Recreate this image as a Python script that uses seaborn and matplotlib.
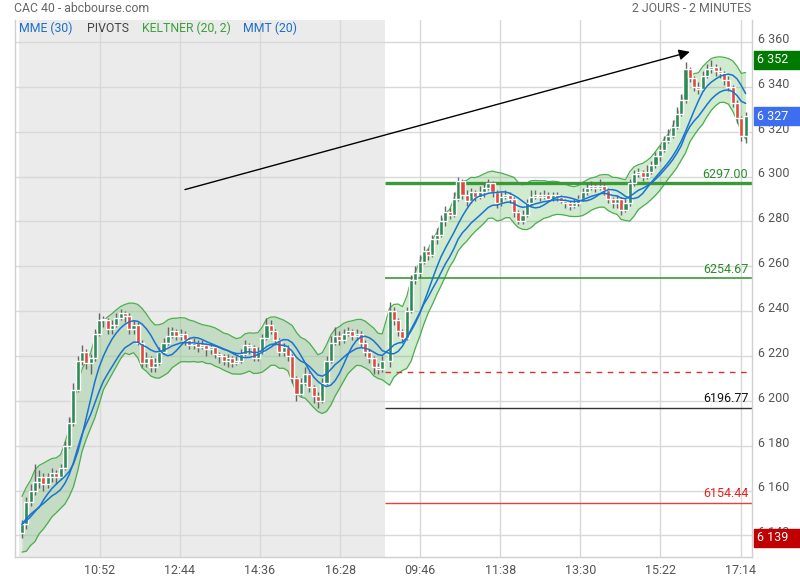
import numpy as np
import pandas as pd
import matplotlib.pyplot as plt
import matplotlib.transforms as mtransforms
from matplotlib.patches import Rectangle
import seaborn as sns

# bougies de 6 minutes (jour 1 puis jour 2)
open_j1_first = 6141
close_j1 = [6145, 6155, 6160, 6164, 6166, 6163, 6166, 6168, 6166, 6170,
            6180, 6190, 6205, 6218, 6222, 6217, 6219, 6230, 6236, 6236,
            6232, 6234, 6237, 6239, 6238, 6232, 6234, 6226, 6217, 6219,
            6215, 6217, 6222, 6226, 6229, 6231, 6229, 6230, 6227, 6225,
            6226, 6224, 6225, 6223, 6224, 6221, 6220, 6218, 6219, 6217,
            6218, 6221, 6225, 6224, 6219, 6222, 6228, 6234, 6231, 6227,
            6222, 6224, 6220, 6210, 6203, 6208, 6212, 6206, 6202, 6200,
            6208, 6218, 6226, 6229, 6227, 6230, 6231, 6229, 6230, 6226,
            6222, 6219, 6215, 6214, 6218]
high_j1 = [6147, 6157, 6163, 6172, 6169, 6168, 6168, 6170, 6169, 6172,
           6182, 6193, 6208, 6220, 6225, 6223, 6221, 6232, 6239, 6238,
           6237, 6236, 6239, 6241, 6240, 6239, 6236, 6235, 6227, 6222,
           6220, 6219, 6224, 6228, 6233, 6233, 6232, 6232, 6231, 6228,
           6228, 6227, 6227, 6226, 6226, 6225, 6222, 6221, 6221, 6220,
           6220, 6223, 6227, 6226, 6225, 6224, 6230, 6237, 6236, 6232,
           6228, 6226, 6225, 6221, 6211, 6210, 6215, 6213, 6207, 6204,
           6210, 6220, 6229, 6233, 6231, 6232, 6233, 6232, 6232, 6231,
           6227, 6223, 6220, 6217, 6220]
low_j1 = [6139, 6143, 6153, 6158, 6161, 6160, 6161, 6164, 6163, 6165,
          6169, 6179, 6189, 6204, 6216, 6214, 6212, 6218, 6229, 6233,
          6230, 6230, 6233, 6236, 6235, 6230, 6230, 6225, 6215, 6215,
          6213, 6213, 6216, 6221, 6225, 6228, 6227, 6227, 6225, 6223,
          6223, 6222, 6223, 6220, 6221, 6219, 6217, 6216, 6215, 6215,
          6216, 6217, 6220, 6221, 6218, 6218, 6221, 6227, 6230, 6225,
          6220, 6220, 6218, 6208, 6200, 6202, 6207, 6204, 6199, 6197,
          6199, 6207, 6217, 6225, 6225, 6226, 6229, 6227, 6227, 6224,
          6220, 6217, 6212, 6212, 6213]

close_j2 = [6240, 6236, 6231, 6228, 6240, 6254, 6257, 6262, 6267, 6265,
            6272, 6274, 6280, 6284, 6283, 6290, 6298, 6292, 6289, 6293,
            6291, 6293, 6295, 6297, 6293, 6288, 6291, 6292, 6290, 6284,
            6280, 6283, 6288, 6291, 6292, 6291, 6292, 6290, 6292, 6291,
            6289, 6288, 6287, 6288, 6290, 6293, 6295, 6296, 6295, 6296,
            6294, 6290, 6288, 6290, 6285, 6288, 6297, 6301, 6302, 6300,
            6302, 6305, 6309, 6312, 6316, 6318, 6322, 6328, 6334, 6348,
            6344, 6340, 6339, 6345, 6348, 6349, 6347, 6346, 6343, 6340,
            6333, 6326, 6318, 6327]
high_j2 = [6244, 6242, 6237, 6232, 6242, 6256, 6260, 6265, 6269, 6268,
           6274, 6277, 6283, 6287, 6286, 6293, 6300, 6299, 6294, 6295,
           6294, 6296, 6297, 6299, 6298, 6294, 6293, 6294, 6293, 6291,
           6285, 6285, 6290, 6294, 6294, 6293, 6294, 6293, 6293, 6293,
           6292, 6290, 6289, 6290, 6292, 6295, 6297, 6298, 6297, 6299,
           6297, 6295, 6291, 6292, 6291, 6290, 6299, 6303, 6304, 6303,
           6305, 6307, 6311, 6314, 6318, 6321, 6325, 6331, 6337, 6351,
           6349, 6345, 6342, 6347, 6350, 6352, 6350, 6349, 6347, 6345,
           6341, 6334, 6327, 6329]
low_j2 = [6215, 6234, 6229, 6226, 6227, 6239, 6252, 6255, 6261, 6263,
          6264, 6270, 6273, 6278, 6281, 6282, 6289, 6290, 6287, 6288,
          6289, 6290, 6291, 6294, 6291, 6286, 6287, 6290, 6288, 6282,
          6279, 6279, 6282, 6287, 6290, 6289, 6290, 6289, 6289, 6289,
          6288, 6286, 6285, 6286, 6287, 6289, 6292, 6294, 6293, 6294,
          6292, 6288, 6286, 6286, 6283, 6284, 6287, 6296, 6300, 6298,
          6299, 6301, 6304, 6307, 6311, 6315, 6317, 6321, 6327, 6333,
          6342, 6338, 6337, 6338, 6344, 6346, 6345, 6344, 6341, 6338,
          6331, 6324, 6316, 6315]

pivot_values = [6297.00, 6254.67, 6196.77, 6154.44]
pivot_labels = ['6297.00', '6254.67', '6196.77', '6154.44']
cloture_veille = 6212.9

ticks_j1 = ['10:52', '12:44', '14:36', '16:28']
ticks_j2 = ['09:46', '11:38', '13:30', '15:22', '17:14']
yticks = [6140, 6160, 6180, 6200, 6220, 6240, 6260, 6280, 6300, 6320, 6340, 6360]

tag_haut, tag_dernier, tag_bas = 6352, 6327, 6139
arrow_start = (38.0, 6294.2)
arrow_end = (155.7, 6355.6)

#%% mise en forme des données

J2_OFFSET = 85.7   # position de la 1re bougie du jour 2
close = close_j1 + close_j2
high = high_j1 + high_j2
low = low_j1 + low_j2
opn = [open_j1_first] + close[:-1]
xpos = list(np.arange(len(close_j1))) + list(J2_OFFSET + np.arange(len(close_j2)))

df = pd.DataFrame({'x': xpos, 'open': opn, 'high': high, 'low': low, 'close': close})

# indicateurs (périodes ramenées à des bougies de 6 min)
df['mme'] = df.close.ewm(span=13, adjust=False).mean()
df['mmt'] = df.close.rolling(5, min_periods=1).mean().rolling(5, min_periods=1).mean()
prev = df.close.shift(1).fillna(df.open)
tr = pd.concat([df.high - df.low, (df.high - prev).abs(), (df.low - prev).abs()], axis=1).max(axis=1)
atr = tr.ewm(span=9, adjust=False).mean()
mid = df.close.ewm(span=8, adjust=False).mean()
df['kc_up'] = mid + 1.55 * atr
df['kc_dn'] = mid - 1.55 * atr


def tick_pos(hhmm, day):
    h, m = map(int, hhmm.split(':'))
    minutes = (h - 9) * 60 + m
    return (0 if day == 1 else J2_OFFSET) + minutes / 6 - 0.5


#%% figure

sns.set_theme(style='white')
plt.rcParams['font.family'] = ['Roboto', 'DejaVu Sans']

fig = plt.figure(figsize=(8, 5.8), dpi=100)
ax = fig.add_axes([15 / 800, 1 - 557 / 580, 737 / 800, 537 / 580])

XMIN, XMAX = -1.63, 170.2
ax.set_xlim(XMIN, XMAX)
ax.set_ylim(6130.4, 6369.8)

ax.axvspan(-0.7, 84.6, color='#ebebeb', zorder=0.1, lw=0)

# Keltner
ax.fill_between(df.x, df.kc_dn, df.kc_up, color='#5cb85c', alpha=0.28, lw=0, zorder=2)
ax.plot(df.x, df.kc_up, color='#4cae4c', lw=0.9, zorder=2.2)
ax.plot(df.x, df.kc_dn, color='#4cae4c', lw=0.9, zorder=2.2)

# pivots
pivot_styles = [dict(color='#3a9a3a', lw=2.4), dict(color='#3a9a3a', lw=1.2),
                dict(color='#333333', lw=1.0), dict(color='#e84040', lw=1.0)]
pivot_text_colors = ['#2a8a2a', '#2a8a2a', '#111111', '#e82020']
for val, lab, st, tc in zip(pivot_values, pivot_labels, pivot_styles, pivot_text_colors):
    ax.hlines(val, 84.7, XMAX, zorder=2.5, **st)
    ax.text(XMAX - 0.9, val + 1.2, lab, ha='right', va='bottom', color=tc, fontsize=9, zorder=6)
ax.hlines(cloture_veille, 84.7, 169.3, colors='#d93030', lw=1.0, linestyles=(0, (4, 4)), zorder=2.5)

# bougies
up = df.close >= df.open
ax.vlines(df.x, df.low, df.high, color='#666666', lw=1.0, zorder=3)
body_h = (df.close - df.open).abs().clip(lower=0.6)
body_b = df[['open', 'close']].min(axis=1)
ax.bar(df.x[up], body_h[up], bottom=body_b[up], width=0.95, color='#2e8b57', zorder=4)
ax.bar(df.x[~up], body_h[~up], bottom=body_b[~up], width=0.95, color='#e0483c', zorder=4)

# moyennes
sns.lineplot(data=df, x='x', y='mme', ax=ax, color='#1a73d0', lw=1.1, zorder=5)
sns.lineplot(data=df, x='x', y='mmt', ax=ax, color='#1a73d0', lw=1.1, zorder=5)

# flèche
ax.annotate('', xy=arrow_end, xytext=arrow_start,
            arrowprops=dict(arrowstyle='-|>', color='black', lw=1.0, mutation_scale=16,
                            shrinkA=0, shrinkB=0), zorder=6)

# axes
xt = [tick_pos(t, 1) for t in ticks_j1] + [tick_pos(t, 2) for t in ticks_j2]
ax.set_xticks(xt)
ax.set_xticklabels(ticks_j1 + ticks_j2)
ax.set_yticks(yticks)
ax.set_yticklabels([f'{v // 1000} {v % 1000:03d}' for v in yticks])
ax.yaxis.tick_right()
ax.tick_params(axis='both', length=0, labelsize=9, colors='#555555')
ax.tick_params(axis='y', pad=4)
ax.tick_params(axis='x', pad=5)
offset = mtransforms.ScaledTranslation(0, 3 / 72, fig.dpi_scale_trans)
for lab in ax.get_yticklabels():
    lab.set_transform(lab.get_transform() + offset)
ax.set_xlabel('')
ax.set_ylabel('')
ax.grid(True, color='#d8d8d8', lw=1.0)
ax.set_axisbelow(True)
for side in ['left', 'bottom', 'right']:
    ax.spines[side].set_color('#d0d0d0')
    ax.spines[side].set_linewidth(1.0)
ax.spines['top'].set_visible(False)

# étiquettes de valeur à droite
bt = mtransforms.blended_transform_factory(fig.transFigure, ax.transData)
for val, col in [(tag_haut, '#007a00'), (tag_dernier, '#3d6ef0'), (tag_bas, '#c00000')]:
    fig.patches.append(Rectangle((754 / 800, val - 4.1), 46 / 800, 8.2, transform=bt,
                                 color=col, zorder=10))
    fig.text(757 / 800, val, f'{val // 1000} {val % 1000:03d}', transform=bt,
             ha='left', va='center', color='white', fontsize=9, zorder=11)

# titres et légende
fig.text(14 / 800, 1 - 9 / 580, 'CAC 40 - abcbourse.com', ha='left', va='center',
         color='#666666', fontsize=8.8)
fig.text(751 / 800, 1 - 9 / 580, '2 JOURS - 2 MINUTES', ha='right', va='center',
         color='#666666', fontsize=8.8)
for xpx, txt, col in [(19, 'MME (30)', '#1a6fc9'), (87, 'PIVOTS', '#444444'),
                      (142, 'KELTNER (20, 2)', '#3aa03a'), (243, 'MMT (20)', '#1a6fc9')]:
    fig.text(xpx / 800, 1 - 28 / 580, txt, ha='left', va='center', color=col, fontsize=8.8)

fig.savefig('out.png', dpi=100)
